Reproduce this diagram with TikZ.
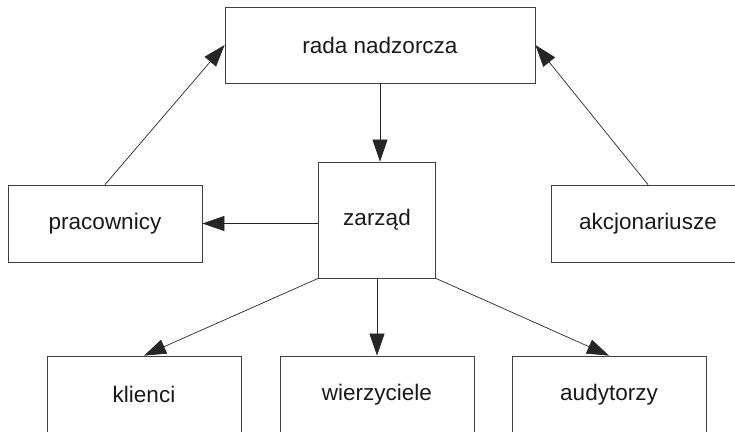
\documentclass[tikz,border=0pt]{standalone}
\usepackage{fontspec}
\setmainfont{Liberation Sans}
\usetikzlibrary{arrows.meta}
\begin{document}
\begin{tikzpicture}[x=1pt,y=-1pt,
  box/.style={draw=black!75, line width=0.8pt, inner sep=0pt,
    minimum width=194pt, minimum height=77pt,
    font=\fontsize{22.5}{27}\selectfont, text=black!90},
  link/.style={draw=black!85, line width=0.7pt,
    -{Triangle[length=22pt,width=15pt]}}]
  \useasboundingbox (0,0) rectangle (735,431);
  \clip (0,0) rectangle (735,431);
  % boxes
  \node[box, minimum width=310pt, minimum height=76pt] (rada) at (380,45) {rada nadzorcza};
  \node[box, minimum width=117pt, minimum height=116pt] (zarzad) at (377,220) {zarząd};
  \node[box] (prac) at (105,223.5) {pracownicy};
  \node[box] (akcj) at (648,223.5) {akcjonariusze};
  \node[box] (klie) at (144,394.5) {klienci};
  \node[box] (wierz) at (377,394.5) {wierzyciele};
  \node[box] (audyt) at (609,394.5) {audytorzy};
  % connectors
  \draw[link] (rada.south) -- (rada.south |- zarzad.north);
  \draw[link] (zarzad.west |- prac.east) -- (prac.east);
  \draw[link] (prac.north) -- (rada.west);
  \draw[link] (akcj.north) -- (rada.east);
  \draw[link] (zarzad.south west) -- (klie.north);
  \draw[link] (zarzad.south) -- (wierz.north);
  \draw[link] (zarzad.south east) -- (audyt.north);
\end{tikzpicture}
\end{document}
